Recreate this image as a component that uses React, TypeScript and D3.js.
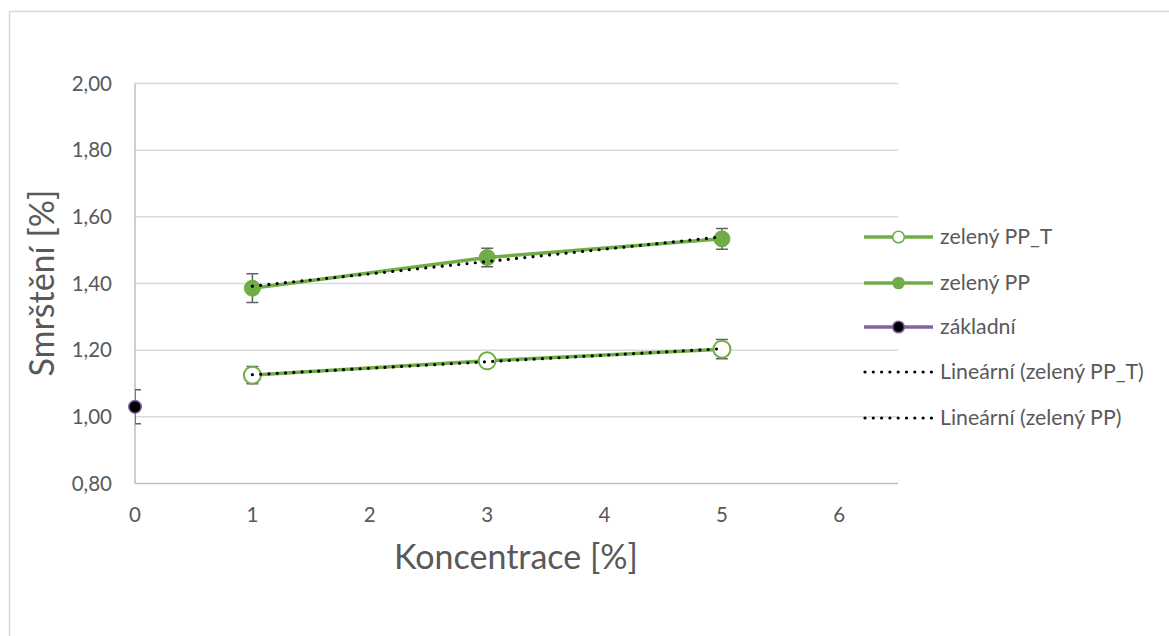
import React from "react";
import * as d3 from "d3";

const xTicks = [0, 1, 2, 3, 4, 5, 6];
const yTicks = [0.8, 1.0, 1.2, 1.4, 1.6, 1.8, 2.0];

const concPP = [1, 3, 5];
const zelenyPP = [1.386, 1.478, 1.534];
const zelenyPPErr = [0.043, 0.028, 0.031];

const concPPT = [1, 3, 5];
const zelenyPPT = [1.125, 1.168, 1.203];
const zelenyPPTErr = [0.026, 0.012, 0.029];

const concZakl = [0];
const zakladni = [1.03];
const zakladniErr = [0.051];

const legendLabels = ["zelený PP_T", "zelený PP", "základní", "Lineární (zelený PP_T)", "Lineární (zelený PP)"];

const GREEN = "#70AD47";
const PURPLE = "#8064A2";
const TEXT = "#595959";
const FONT = "Lato, 'Open Sans', 'Noto Sans', sans-serif";

function fit(xs: number[], ys: number[]) {
  const mx = d3.mean(xs)!;
  const my = d3.mean(ys)!;
  let num = 0, den = 0;
  xs.forEach((x, i) => { num += (x - mx) * (ys[i] - my); den += (x - mx) ** 2; });
  const b = num / den;
  const a = my - b * mx;
  return (x: number) => a + b * x;
}

export default function App() {
  const W = 1169, H = 636;
  const L = 135, R = 898, T = 83.5, B = 483.5;
  const x = d3.scaleLinear().domain([0, 6.5]).range([L, R]);
  const y = d3.scaleLinear().domain([0.8, 2.0]).range([B, T]);
  const line = d3.line<[number, number]>().x(d => x(d[0])).y(d => y(d[1]));

  const fPPT = fit(concPPT, zelenyPPT);
  const fPP = fit(concPP, zelenyPP);
  const tr = (f: (v: number) => number, xs: number[]) => {
    const [a, b] = d3.extent(xs) as [number, number];
    return line([[a, f(a)], [b, f(b)]]) || "";
  };

  const errBars = (xs: number[], ys: number[], es: number[], key: string) =>
    xs.map((xv, i) => {
      const cx = x(xv);
      const y1 = y(ys[i] + es[i]);
      const y2 = y(ys[i] - es[i]);
      return (
        <g key={key + i} stroke="#636363" strokeWidth={1.5} fill="none" clipPath="url(#plotclip)">
          <line x1={cx} x2={cx} y1={y1} y2={y2} />
          <line x1={cx - 6} x2={cx + 6} y1={y1} y2={y1} />
          <line x1={cx - 6} x2={cx + 6} y1={y2} y2={y2} />
        </g>
      );
    });

  const legendYs = [237, 283, 327, 372, 418];
  const lx1 = 864, lx2 = 933, lmx = 898.5;
  const dots = { stroke: "#000", strokeWidth: 3.2, strokeDasharray: "0 8.3", strokeLinecap: "round" as const };

  return (
    <svg width={W} height={H} style={{ position: "absolute", left: 0, top: 0 }} fontFamily={FONT}>
      <defs>
        <clipPath id="plotclip">
          <rect x={L} y={T - 20} width={R - L} height={B - T + 40} />
        </clipPath>
      </defs>
      <rect x={0} y={0} width={W} height={H} fill="#fff" />
      <rect x={9.5} y={11.5} width={W + 20} height={H + 20} fill="none" stroke="#D9D9D9" strokeWidth={1.5} />

      {yTicks.map(t => (
        <g key={"y" + t}>
          {t > 0.8 && <line x1={L} x2={R} y1={y(t)} y2={y(t)} stroke="#D9D9D9" strokeWidth={1.5} />}
          <text x={112} y={y(t)} dy="0.35em" textAnchor="end" fontSize={20.5} fill={TEXT}>
            {t.toFixed(2).replace(".", ",")}
          </text>
        </g>
      ))}
      <line x1={L} x2={R} y1={B} y2={B} stroke="#BFBFBF" strokeWidth={1.5} />
      <line x1={L} x2={L} y1={T} y2={B} stroke="#BFBFBF" strokeWidth={1.5} />

      {xTicks.map(t => (
        <text key={"x" + t} x={x(t)} y={515} dy="0.35em" textAnchor="middle" fontSize={20.5} fill={TEXT}>
          {t}
        </text>
      ))}

      <text x={516} y={557} dy="0.35em" textAnchor="middle" fontSize={34} fill={TEXT}>Koncentrace [%]</text>
      <text transform={`translate(42,283) rotate(-90)`} dy="0.35em" textAnchor="middle" fontSize={34} fill={TEXT}>Smrštění [%]</text>

      {/* series lines */}
      <path d={line(concPPT.map((c, i) => [c, zelenyPPT[i]] as [number, number])) || ""} fill="none" stroke={GREEN} strokeWidth={3.5} />
      <path d={line(concPP.map((c, i) => [c, zelenyPP[i]] as [number, number])) || ""} fill="none" stroke={GREEN} strokeWidth={3.5} />

      {errBars(concPPT, zelenyPPT, zelenyPPTErr, "ept")}
      {errBars(concPP, zelenyPP, zelenyPPErr, "epp")}
      {errBars(concZakl, zakladni, zakladniErr, "ezk")}

      {/* markers */}
      {concPPT.map((c, i) => (
        <circle key={"pt" + i} cx={x(c)} cy={y(zelenyPPT[i])} r={8.5} fill="#fff" stroke={GREEN} strokeWidth={2} />
      ))}
      {concPP.map((c, i) => (
        <circle key={"pp" + i} cx={x(c)} cy={y(zelenyPP[i])} r={8} fill={GREEN} stroke={GREEN} strokeWidth={1} />
      ))}
      {concZakl.map((c, i) => (
        <circle key={"zk" + i} cx={x(c)} cy={y(zakladni[i])} r={6.3} fill="#000" stroke={PURPLE} strokeWidth={1.5} />
      ))}

      {/* trendlines */}
      <path d={tr(fPPT, concPPT)} fill="none" {...dots} />
      <path d={tr(fPP, concPP)} fill="none" {...dots} />

      {/* legend */}
      <g>
        <line x1={lx1} x2={lx2} y1={legendYs[0]} y2={legendYs[0]} stroke={GREEN} strokeWidth={3.5} />
        <circle cx={lmx} cy={legendYs[0]} r={5.8} fill="#fff" stroke={GREEN} strokeWidth={1.5} />
        <line x1={lx1} x2={lx2} y1={legendYs[1]} y2={legendYs[1]} stroke={GREEN} strokeWidth={3.5} />
        <circle cx={lmx} cy={legendYs[1]} r={6.3} fill={GREEN} />
        <line x1={lx1} x2={lx2} y1={legendYs[2]} y2={legendYs[2]} stroke={PURPLE} strokeWidth={3.5} />
        <circle cx={lmx} cy={legendYs[2]} r={5.8} fill="#000" stroke={PURPLE} strokeWidth={1.5} />
        <line x1={lx1 + 1} x2={lx2} y1={legendYs[3]} y2={legendYs[3]} {...dots} />
        <line x1={lx1 + 1} x2={lx2} y1={legendYs[4]} y2={legendYs[4]} {...dots} />
        {legendLabels.map((lab, i) => (
          <text key={lab} x={940} y={legendYs[i]} dy="0.35em" fontSize={21.3} fill={TEXT}>{lab}</text>
        ))}
      </g>
    </svg>
  );
}
